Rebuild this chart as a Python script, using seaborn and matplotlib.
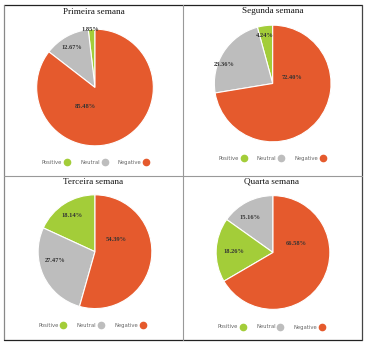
import matplotlib
matplotlib.use("Agg")
import matplotlib.pyplot as plt
import seaborn as sns
import numpy as np
from matplotlib.lines import Line2D

# ---- data ----
titles = ["Primeira semana", "Segunda semana", "Terceira semana", "Quarta semana"]
categories = ["Positive", "Neutral", "Negative"]
positive = [1.85, 4.24, 18.14, 18.26]
neutral = [12.67, 23.36, 27.47, 15.16]
negative = [85.48, 72.40, 54.39, 66.58]

# ---- style ----
sns.set_theme(style="white")
plt.rcParams['font.family'] = ['DejaVu Sans']
colors = {"Positive": "#a3cd39", "Neutral": "#bdbdbd", "Negative": "#e55a2d"}

W, H = 365, 346
fig = plt.figure(figsize=(W / 100, H / 100), dpi=100)
fig.patch.set_facecolor("white")

# layout (pixels): pie centers / radius, title & legend anchors
centers = [(95, 87.5, 59.5), (272.7, 83.5, 59.5), (95, 251.7, 58), (273, 252.5, 58)]
title_pos = [(94, 12), (272.7, 11), (93.3, 182), (271, 181.3)]
legend_pos = [(95.5, 162), (272, 158.3), (91.7, 325.7), (271.3, 327)]
# label placement (angle deg, radial fraction) for slices in drawn order
label_polar = [
    [(95, 1.0), (120.6, 0.79), (242.9, 0.37)],
    [(99.4, 0.83), (158.7, 0.90), (18, 0.35)],
    [(122, 0.75), (192.5, 0.72), (29, 0.43)],
    [(122.8, 0.74), (179, 0.69), (21.6, 0.44)],
]

for i in range(4):
    vals = {"Positive": positive[i], "Neutral": neutral[i], "Negative": negative[i]}
    order = sorted(categories, key=lambda c: vals[c])
    cx, cy, r = centers[i]
    ax = fig.add_axes([(cx - r) / W, 1 - (cy + r) / H, 2 * r / W, 2 * r / H])
    ax.pie([vals[c] for c in order], colors=[colors[c] for c in order],
           startangle=90, counterclock=True, radius=1,
           wedgeprops=dict(edgecolor="white", linewidth=0.8))
    ax.set_xlim(-1.02, 1.02)
    ax.set_ylim(-1.02, 1.02)
    ax.set_aspect("equal")
    ax.axis("off")
    for c, (ang, d) in zip(order, label_polar[i]):
        a = np.deg2rad(ang)
        ax.text(d * np.cos(a), d * np.sin(a), f"{vals[c]:.2f}%", ha="center", va="center",
                fontsize=4.6, color="#333333", fontweight="bold",
                family=["Liberation Serif", "DejaVu Serif"])
    tx, ty = title_pos[i]
    fig.text(tx / W, 1 - ty / H, titles[i], ha="center", va="center", fontsize=6.6,
             family=["Liberation Serif", "DejaVu Serif"], color="#111111")
    handles = [Line2D([], [], marker="o", linestyle="none", markersize=4.5,
                      markerfacecolor=colors[c], markeredgecolor=colors[c]) for c in categories]
    lx, ly = legend_pos[i]
    leg = fig.legend(handles, categories, loc="center", bbox_to_anchor=(lx / W, 1 - ly / H),
                     ncol=3, markerfirst=False, frameon=False, fontsize=3.8,
                     handletextpad=0.4, columnspacing=2.0, handlelength=1.0)
    for t in leg.get_texts():
        t.set_color("#666666")

# frame and dividers
ov = fig.add_axes([0, 0, 1, 1], facecolor="none")
ov.set_xlim(0, W)
ov.set_ylim(H, 0)
ov.axis("off")
ov.plot([4, 362], [5, 5], color="#222222", lw=0.9)
ov.plot([4, 4], [5, 340], color="#888888", lw=0.9)
ov.plot([4, 362], [340, 340], color="#222222", lw=0.9)
ov.plot([362, 362], [5, 340], color="#444444", lw=0.9)
ov.plot([183, 183], [5, 340], color="#999999", lw=0.8)
ov.plot([4, 362], [176, 176], color="#999999", lw=0.8)

fig.savefig("out.png", dpi=100, facecolor="white")
